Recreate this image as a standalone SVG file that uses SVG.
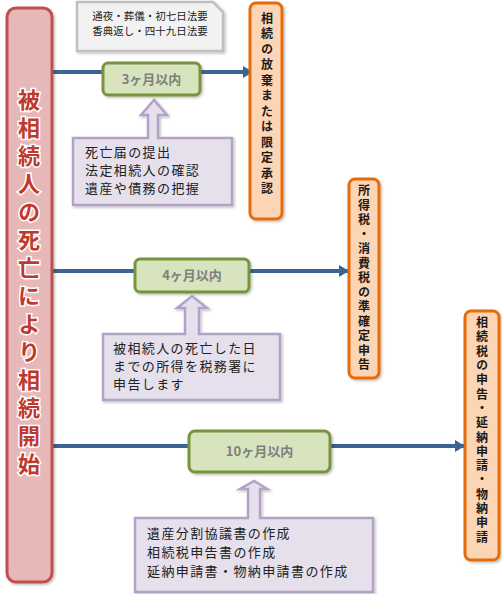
<svg xmlns="http://www.w3.org/2000/svg" width="502" height="594" viewBox="0 0 502 594">
<defs>
<marker id="ah" markerUnits="userSpaceOnUse" markerWidth="10" markerHeight="12" refX="9" refY="6" orient="auto">
<path d="M0,0 L10,6 L0,12 Z" fill="#3c6392"/>
</marker>
<filter id="sh" x="-10%" y="-10%" width="130%" height="130%">
<feDropShadow dx="1.5" dy="1.5" stdDeviation="1.2" flood-color="#000" flood-opacity="0.25"/>
</filter>
</defs>
<style>
.jp{font-family:"Noto Sans CJK JP","Noto Sans",sans-serif;}
.red{fill:#e6b8b7;stroke:#c0504d;stroke-width:3;}
.org{fill:#fcd5b5;stroke:#e46c0a;stroke-width:3;}
.grn{fill:#d7e4bd;stroke:#77933c;stroke-width:3;}
.pur{fill:#e5e0ec;stroke:#b3a2c7;stroke-width:2.5;}
.note{fill:#f2f2f2;stroke:#bfbfbf;stroke-width:2.5;}
.conn{stroke:#3c6392;stroke-width:4;fill:none;}
.lbl{font-size:13px;font-weight:bold;fill:#7f7f7f;text-anchor:middle;}
.vt{font-size:12px;font-weight:bold;fill:#1a1a1a;text-anchor:middle;writing-mode:vertical-rl;text-orientation:upright;}
.bt{font-size:13px;fill:#222;letter-spacing:1.4px;}
.big{font-size:22px;font-weight:bold;fill:#c0392b;stroke:#fff;stroke-width:3;paint-order:stroke;text-anchor:middle;writing-mode:vertical-rl;text-orientation:upright;letter-spacing:6px;}
</style>

<g id="connectors">
<line class="conn" x1="53" y1="72" x2="252" y2="72" marker-end="url(#ah)"/>
<line class="conn" x1="53" y1="271" x2="348" y2="271" marker-end="url(#ah)"/>
<line class="conn" x1="53" y1="446" x2="464" y2="446" marker-end="url(#ah)"/>
</g>

<g id="start">
<rect class="red" x="7" y="8" width="45" height="574" rx="9" filter="url(#sh)"/>
<text class="jp big" x="29" y="285">被相続人の死亡により相続開始</text>
</g>

<g id="note">
<path class="note" d="M77,2 H213 L223,12 V51 H77 Z" filter="url(#sh)"/>
<text class="jp" font-size="10.5" fill="#222" text-anchor="middle"><tspan x="150" y="20">通夜・葬儀・初七日法要</tspan><tspan x="150" y="35">香典返し・四十九日法要</tspan></text>
</g>

<g id="m3">
<rect class="grn" x="103" y="63" width="97" height="32" rx="5" filter="url(#sh)"/>
<text class="jp lbl" x="151.5" y="84">3ヶ月以内</text>
</g>

<g id="task1">
<path class="pur" d="M73,138 H148 V115 H141 L154,100 L167,115 H158 V138 H232 V205 H73 Z" filter="url(#sh)"/>
<text class="jp bt"><tspan x="85" y="157">死亡届の提出</tspan><tspan x="85" y="175">法定相続人の確認</tspan><tspan x="85" y="193">遺産や債務の把握</tspan></text>
</g>

<g id="out1">
<rect class="org" x="250" y="3" width="32" height="216" rx="6" filter="url(#sh)"/>
<text class="jp vt" x="267" y="105" letter-spacing="3.5">相続の放棄または限定承認</text>
</g>

<g id="m4">
<rect class="grn" x="135" y="259" width="114" height="33" rx="5" filter="url(#sh)"/>
<text class="jp lbl" x="192" y="280">4ヶ月以内</text>
</g>

<g id="task2">
<path class="pur" d="M103,334 H185 V308 H177 L192,296 L207,308 H199 V334 H280 V400 H103 Z" filter="url(#sh)"/>
<text class="jp bt"><tspan x="113" y="353">被相続人の死亡した日</tspan><tspan x="113" y="371">までの所得を税務署に</tspan><tspan x="113" y="389">申告します</tspan></text>
</g>

<g id="out2">
<rect class="org" x="349" y="179" width="30" height="199" rx="6" filter="url(#sh)"/>
<text class="jp vt" x="364" y="279" font-size="11.5" letter-spacing="2.5">所得税・消費税の準確定申告</text>
</g>

<g id="m10">
<rect class="grn" x="189" y="431" width="141" height="41" rx="6" filter="url(#sh)"/>
<text class="jp lbl" x="259.5" y="456">10ヶ月以内</text>
</g>

<g id="task3">
<path class="pur" d="M135,518 H248 V489 H240 L254,481 L267,489 H260 V518 H373 V592 H135 Z" filter="url(#sh)"/>
<text class="jp bt"><tspan x="147" y="538">遺産分割協議書の作成</tspan><tspan x="147" y="557">相続税申告書の作成</tspan><tspan x="147" y="576">延納申請書・物納申請書の作成</tspan></text>
</g>

<g id="out3">
<rect class="org" x="465" y="311" width="34" height="249" rx="6" filter="url(#sh)"/>
<text class="jp vt" x="482" y="431" font-size="11.5" letter-spacing="2.3">相続税の申告・延納申請・物納申請</text>
</g>
</svg>
